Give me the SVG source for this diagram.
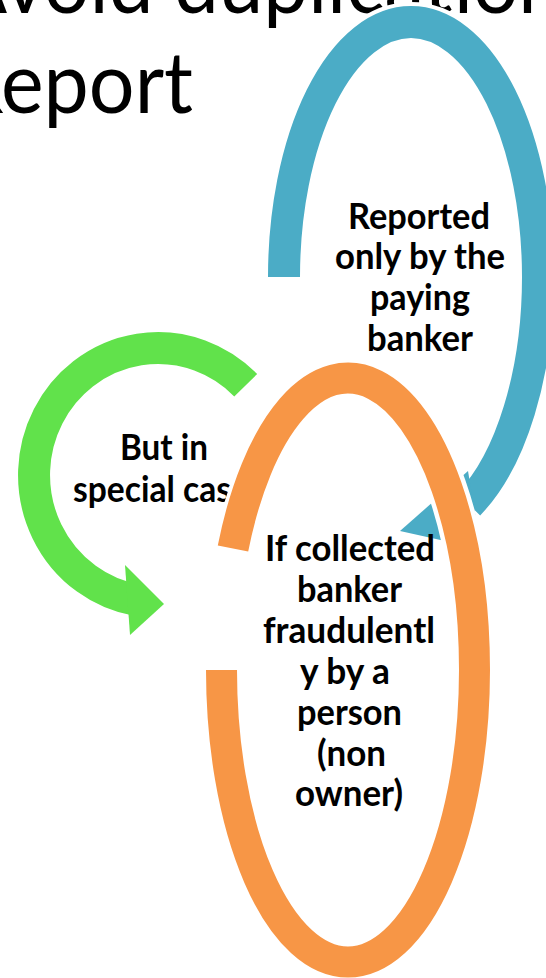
<svg xmlns="http://www.w3.org/2000/svg" width="546" height="978" viewBox="0 0 546 978">
<style>
.title{font-family:Lato,"Liberation Sans",sans-serif;font-size:86px;fill:#000}
.lbl{font-family:Lato,"Liberation Sans",sans-serif;font-size:36px;font-weight:bold;fill:#000}
.ring{fill:none;stroke-linecap:butt}
</style>
<defs>
<clipPath id="clipGreenText">
<path clip-rule="evenodd" d="M0 0H546V978H0Z M201.5 670 A146.5 312 0 1 0 494.5 670 A146.5 312 0 1 0 201.5 670Z"/>
</clipPath>
</defs>
<rect width="546" height="978" fill="#fff"/>
<g id="title">
<text class="title" x="-47" y="13" textLength="610" lengthAdjust="spacingAndGlyphs">Avoid duplication</text>
<text class="title" x="-47" y="113" textLength="240" lengthAdjust="spacingAndGlyphs">Report</text>
</g>
<g id="connectors">
<g id="green-arrow">
<path class="ring" stroke="#61E24B" stroke-width="32" d="M245.7 385.2 A124 127 0 1 0 136.5 600.1"/>
<polygon fill="#61E24B" points="125,565 164,604 130,635"/>
</g>
<g id="blue-arrow">
<path class="ring" stroke="#fff" stroke-width="40" d="M284 277 A127 255 0 0 1 538 277"/>
<path class="ring" stroke="#4BACC6" stroke-width="32" d="M284 277 A127 255 0 0 1 538 277 A127 255 0 0 1 468.7 504.2"/>
<polygon fill="#4BACC6" points="400,531 468,471 481,549"/>
</g>
<g id="orange-arrow">
<path class="ring" stroke="#fff" stroke-width="40" d="M221.5 670 A126.5 292 0 0 0 474.5 670 A126.5 292 0 0 0 233 548.5"/>
<path class="ring" stroke="#F79646" stroke-width="31" d="M221.5 670 A126.5 292 0 0 0 474.5 670 A126.5 292 0 0 0 233 548.5"/>
</g>
</g>
<g id="node-blue">
<text class="lbl" x="348" y="229" textLength="142" lengthAdjust="spacingAndGlyphs">Reported</text>
<text class="lbl" x="335" y="269" textLength="170" lengthAdjust="spacingAndGlyphs">only by the</text>
<text class="lbl" x="370" y="310" textLength="100" lengthAdjust="spacingAndGlyphs">paying</text>
<text class="lbl" x="367" y="351" textLength="106" lengthAdjust="spacingAndGlyphs">banker</text>
</g>
<g id="node-green" clip-path="url(#clipGreenText)">
<text class="lbl" x="120" y="460" textLength="88" lengthAdjust="spacingAndGlyphs">But in</text>
<text class="lbl" x="73" y="502" textLength="176" lengthAdjust="spacingAndGlyphs">special case</text>
</g>
<g id="node-orange">
<text class="lbl" x="265" y="561" textLength="170" lengthAdjust="spacingAndGlyphs">If collected</text>
<text class="lbl" x="297" y="602" textLength="105" lengthAdjust="spacingAndGlyphs">banker</text>
<text class="lbl" x="263" y="643" textLength="172" lengthAdjust="spacingAndGlyphs">fraudulentl</text>
<text class="lbl" x="300" y="684" textLength="90" lengthAdjust="spacingAndGlyphs">y by a</text>
<text class="lbl" x="297" y="725" textLength="105" lengthAdjust="spacingAndGlyphs">person</text>
<text class="lbl" x="317" y="766" textLength="69" lengthAdjust="spacingAndGlyphs">(non</text>
<text class="lbl" x="295" y="806" textLength="108" lengthAdjust="spacingAndGlyphs">owner)</text>
</g>
</svg>
